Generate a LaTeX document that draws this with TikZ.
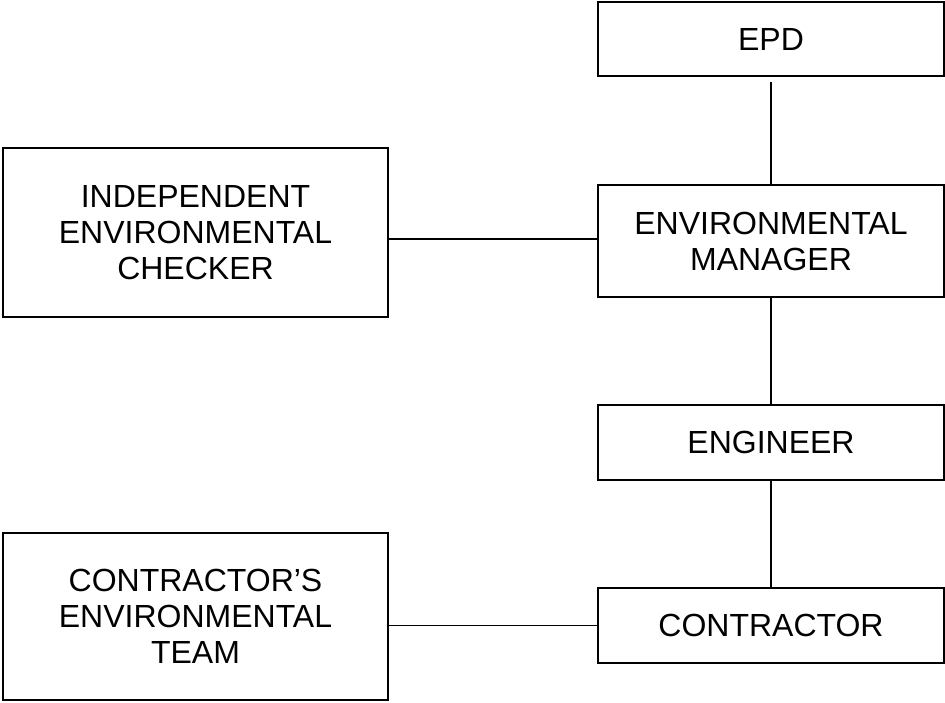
\documentclass[tikz,border=0pt]{standalone}
\usepackage{fontspec}
\setmainfont{Liberation Sans}
\begin{document}
\begin{tikzpicture}[x=1pt,y=-1pt,
  box/.style={draw=black,line width=1.8pt,rectangle,align=center,inner sep=0pt,
    font=\fontsize{32}{36}\selectfont},
  link/.style={draw=black,line width=1.8pt}]
\useasboundingbox (0,0) rectangle (945,702);
\node[box,minimum width=346pt,minimum height=74pt] (epd) at (771,39) {EPD};
\node[box,minimum width=346pt,minimum height=112pt] (em) at (771,241) {ENVIRONMENTAL\\MANAGER};
\node[box,minimum width=346pt,minimum height=75pt] (eng) at (771,442.5) {ENGINEER};
\node[box,minimum width=346pt,minimum height=75pt] (con) at (771,625.5) {CONTRACTOR};
\node[box,minimum width=385pt,minimum height=169pt] (iec) at (195.5,232.5) {INDEPENDENT\\ENVIRONMENTAL\\CHECKER};
\node[box,minimum width=385pt,minimum height=167pt] (cet) at (195.5,616.5) {CONTRACTOR’S\\ENVIRONMENTAL\\TEAM};
\draw[link] ([yshift=-5pt]epd.south) -- (em.north);
\draw[link] (em.south) -- (eng.north);
\draw[link] (eng.south) -- (con.north);
\draw[link] (iec.east |- 0,239) -- (em.west |- 0,239);
\draw[link] (cet.east |- con.west) -- (con.west);
\end{tikzpicture}
\end{document}
